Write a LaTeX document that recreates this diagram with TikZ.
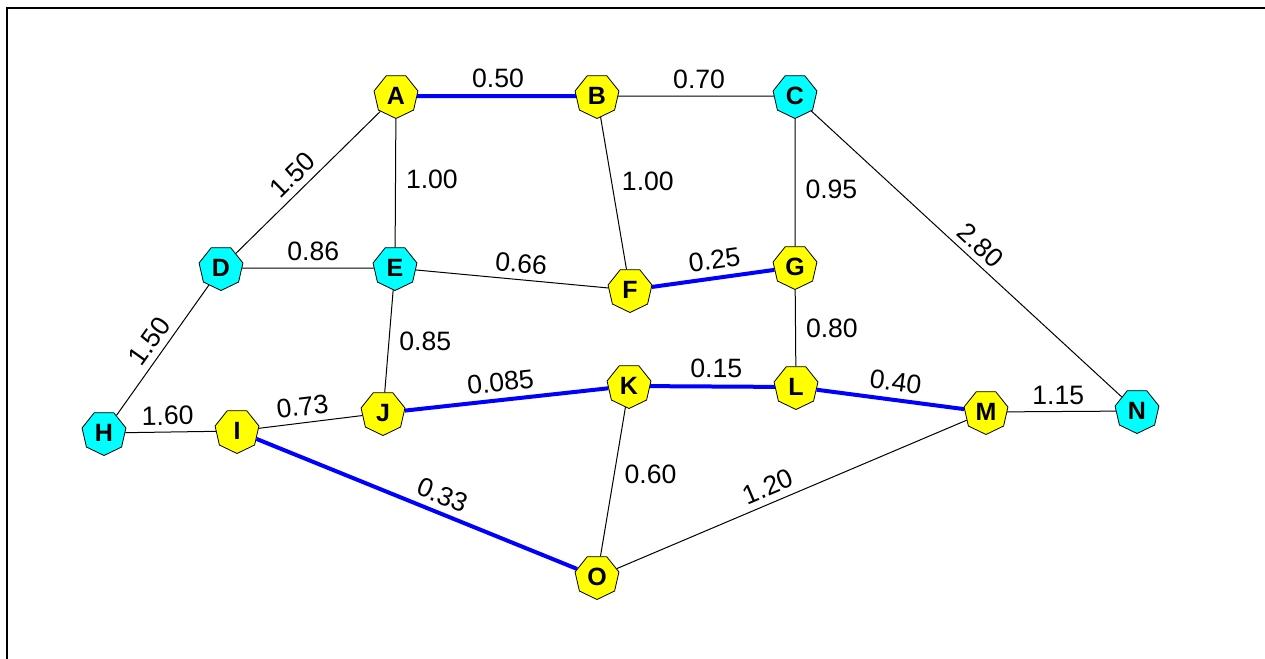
\documentclass[tikz,border=0pt]{standalone}
\usepackage{fontspec}
\setmainfont{Liberation Sans}
\usetikzlibrary{shapes.geometric}
\definecolor{aqua}{RGB}{0,255,255}
\definecolor{lemon}{RGB}{255,255,0}
\tikzset{
 road/.style={line width=.5pt},
 tour/.style={draw=blue,line width=2pt},
 site/.style={regular polygon,regular polygon sides=7,shape border rotate=180,draw,line width=.4pt,fill=lemon,minimum size=22.5pt,inner sep=0,font=\fontsize{12.5}{12.5}\selectfont\bfseries},
 depot/.style={site,fill=aqua},
 wt/.style={sloped,above,inner sep=3.2pt,font=\fontsize{13.3}{14}\selectfont},
 wtside/.style={right,inner sep=5pt,font=\fontsize{13.3}{14}\selectfont}
}
\begin{document}
\begin{tikzpicture}[x=.5pt,y=-.5pt]
\path[use as bounding box] (0,0) rectangle (1265,659);
\draw[line width=1pt] (7,659) -- (7,7.5) -- (1265,7.5);
% places
\node[site] (A) at (396,96) {A};
\node[site] (B) at (597,96) {B};
\node[depot] (C) at (795,96) {C};
\node[depot] (D) at (221,268) {D};
\node[depot] (E) at (395,268) {E};
\node[site] (F) at (630,290) {F};
\node[site] (G) at (795,267) {G};
\node[depot] (H) at (104,433) {H};
\node[site] (I) at (237,431) {I};
\node[site] (J) at (383,413) {J};
\node[site] (K) at (629,386) {K};
\node[site] (L) at (796,387) {L};
\node[site] (M) at (986,412) {M};
\node[depot] (N) at (1137,411) {N};
\node[site] (O) at (597,577) {O};
% roads
\draw[tour] (A) -- node[wt,pos=.51] {0.50} (B);
\draw[road] (B) -- node[wt,pos=.52] {0.70} (C);
\draw[road] (D) -- node[wt,pos=.47] {1.50} (A);
\draw[road] (A) -- node[wtside,pos=.47] {1.00} (E);
\draw[road] (B) -- node[wtside,pos=.42] {1.00} (F);
\draw[road] (C) -- node[wtside,pos=.55] {0.95} (G);
\draw[road] (C) -- node[wt,pos=.51] {2.80} (N);
\draw[road] (D) -- node[wt,pos=.54] {0.86} (E);
\draw[road] (E) -- node[wt,pos=.54] {0.66} (F);
\draw[tour] (F) -- node[wt,pos=.53] {0.25} (G);
\draw[road] (H) -- node[wt,pos=.5] {1.50} (D);
\draw[road] (E) -- node[wtside,pos=.5] {0.85} (J);
\draw[road] (G) -- node[wtside,pos=.5] {0.80} (L);
\draw[road] (H) -- node[wt,pos=.47] {1.60} (I);
\draw[road] (I) -- node[wt,pos=.44] {0.73} (J);
\draw[tour] (J) -- node[wt,pos=.48] {0.085} (K);
\draw[tour] (K) -- node[wt,pos=.53] {0.15} (L);
\draw[tour] (L) -- node[wt,pos=.52] {0.40} (M);
\draw[road] (M) -- node[wt,pos=.47] {1.15} (N);
\draw[tour] (I) -- node[wt,pos=.56] {0.33} (O);
\draw[road] (K) -- node[wtside,pos=.45] {0.60} (O);
\draw[road] (O) -- node[wt,pos=.45] {1.20} (M);
\end{tikzpicture}
\end{document}
